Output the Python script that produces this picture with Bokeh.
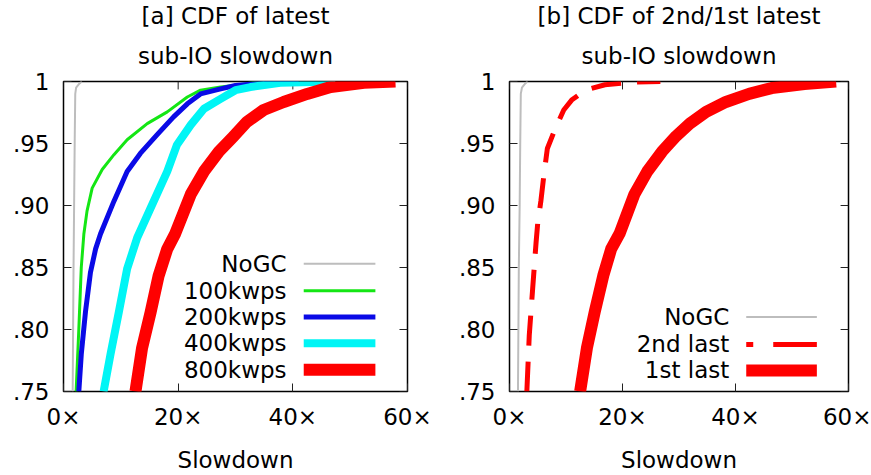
from bokeh.plotting import figure
from bokeh.layouts import row
from bokeh.models import Range1d, FixedTicker, Label, Title
from bokeh.embed import file_html
from bokeh.resources import INLINE

FONT = "DejaVu Sans"
FS = "23px"

x_ticks = [0, 20, 40, 60]
x_tick_labels = ["0\u00d7", "20\u00d7", "40\u00d7", "60\u00d7"]
y_ticks = [0.75, 0.80, 0.85, 0.90, 0.95, 1.0]
y_tick_labels = [".75", ".80", ".85", ".90", ".95", "1"]

title_a = ["[a] CDF of latest", "sub-IO slowdown"]
title_b = ["[b] CDF of 2nd/1st latest", "sub-IO slowdown"]

# ---- panel a: CDF of latest sub-IO slowdown ----
nogc_x = [1.6, 1.75, 1.85, 1.95, 2.05, 2.2, 2.8, 3.2]
nogc_y = [0.75, 0.85, 0.90, 0.95, 0.99, 0.995, 0.9985, 1.0]

k100_x = [2.2, 2.67, 3.1, 3.55, 4.1, 5.0, 6.75, 8.8, 11.1, 14.6, 18.1, 21.6, 23.9, 27.4, 30.0, 33.0, 35.0]
k100_y = [0.75, 0.80, 0.85, 0.877, 0.8955, 0.914, 0.929, 0.941, 0.953, 0.966, 0.9755, 0.9875, 0.993, 0.9955, 0.997, 0.999, 1.0]

k200_x = [2.67, 3.1, 3.84, 4.7, 5.6, 6.45, 8.8, 11.1, 13.4, 16.3, 19.2, 21.6, 23.9, 27.4, 30.0, 35.0, 41.0]
k200_y = [0.75, 0.78, 0.8145, 0.846, 0.865, 0.877, 0.9035, 0.9275, 0.942, 0.957, 0.9715, 0.982, 0.990, 0.994, 0.9968, 0.9988, 1.0]

k400_x = [7.0, 8.2, 9.65, 11.1, 12.85, 15.2, 18.1, 19.8, 22.2, 24.5, 27.4, 30.0, 32.6, 37.8, 47.4]
k400_y = [0.75, 0.78, 0.814, 0.849, 0.874, 0.898, 0.9275, 0.949, 0.965, 0.978, 0.986, 0.993, 0.9955, 0.999, 1.0]

k800_x = [12.55, 13.7, 15.2, 16.6, 18.1, 19.5, 22.2, 24.5, 27.1, 29.5, 32.0, 34.9, 38.4, 42.5, 46.6, 52.4, 57.9]
k800_y = [0.75, 0.785, 0.814, 0.8435, 0.865, 0.8775, 0.909, 0.9275, 0.9435, 0.955, 0.9675, 0.977, 0.9835, 0.990, 0.9955, 0.999, 1.0]

# ---- panel b: CDF of 2nd/1st latest sub-IO slowdown ----
nogc_b_x = [1.5, 1.65, 1.8, 1.9, 2.0, 2.2, 2.8, 3.2]
nogc_b_y = [0.75, 0.85, 0.90, 0.95, 0.99, 0.995, 0.9985, 1.0]

second_x = [3.07, 3.5, 4.1, 4.7, 5.0, 5.55, 6.1, 6.7, 8.1, 9.6, 11.0, 13.4, 16.9, 22.1, 26.7]
second_y = [0.75, 0.7955, 0.833, 0.870, 0.886, 0.9035, 0.925, 0.946, 0.962, 0.977, 0.985, 0.993, 0.9974, 0.9995, 1.0]

first_x = [12.5, 13.7, 15.1, 16.6, 18.0, 19.5, 22.1, 24.4, 27.0, 29.5, 31.9, 34.8, 38.3, 42.4, 46.4, 52.2, 57.8]
first_y = [0.75, 0.785, 0.8145, 0.8435, 0.865, 0.8775, 0.909, 0.9275, 0.9435, 0.956, 0.966, 0.9755, 0.9835, 0.990, 0.9947, 0.998, 1.0]

GRAY = "#bdbdbd"
GREEN = "#14e614"
BLUE = "#0a0ae6"
CYAN = "#00f5f5"
RED = "#ff0000"

X0, X1 = 0, 60
Y0, Y1 = 0.75, 1.0
TICK_X = 1.4      # 8px of x range
TICK_Y = 0.0064   # 8px of y range


def make_fig(width, bl, br, title_lines):
    p = figure(width=width, height=475, x_range=Range1d(X0, X1), y_range=Range1d(Y0, Y1),
               output_backend="svg", toolbar_location=None, title=None,
               min_border_left=bl, min_border_right=br, min_border_top=81, min_border_bottom=81)
    # second title line closest to the frame, first line above it
    for txt, so in ((title_lines[1], 25), (title_lines[0], 0)):
        p.add_layout(Title(text=txt, align="center", text_font=FONT, text_font_size=FS,
                           text_font_style="normal", text_color="black", standoff=so), "above")
    p.xgrid.visible = False
    p.ygrid.visible = False
    p.outline_line_color = "black"
    p.outline_line_width = 1.5
    p.outline_line_alpha = 1.0

    for ax, ticks, labels in ((p.xaxis[0], x_ticks, x_tick_labels), (p.yaxis[0], y_ticks, y_tick_labels)):
        ax.ticker = FixedTicker(ticks=ticks)
        ax.major_label_overrides = dict(zip(ticks, labels))
        ax.major_label_text_font = FONT
        ax.major_label_text_font_size = FS
        ax.major_label_text_color = "black"
        ax.major_tick_in = 8
        ax.major_tick_out = 0
        ax.minor_tick_line_color = None
        ax.axis_line_color = None
        ax.major_tick_line_color = "#222222"
        ax.major_label_standoff = 14
    p.xaxis[0].major_label_standoff = 12
    p.xaxis[0].axis_label = "Slowdown"
    p.xaxis[0].axis_label_text_font = FONT
    p.xaxis[0].axis_label_text_font_size = FS
    p.xaxis[0].axis_label_text_font_style = "normal"
    p.xaxis[0].axis_label_text_color = "black"
    p.xaxis[0].axis_label_standoff = 14

    # mirrored inner ticks on the top and right frame edges
    p.segment(x0=x_ticks, y0=[Y1] * len(x_ticks), x1=x_ticks, y1=[Y1 - TICK_Y] * len(x_ticks),
              line_color="#222222", line_width=1)
    p.segment(x0=[X1] * len(y_ticks), y0=y_ticks, x1=[X1 - TICK_X] * len(y_ticks), y1=y_ticks,
              line_color="#222222", line_width=1)
    return p


def legend_entry(p, text, y, color, width, dash="solid"):
    p.add_layout(Label(x=38.9, y=y, text=text, text_align="right", text_baseline="middle",
                       text_font=FONT, text_font_size=FS, text_color="black"))
    p.line([41.9, 54.4], [y, y], line_color=color, line_width=width, line_dash=dash)


pa = make_fig(455, 63, 48, title_a)
pa.line(nogc_x, nogc_y, line_color=GRAY, line_width=2, line_join="round")
pa.line(k100_x, k100_y, line_color=GREEN, line_width=3, line_join="round")
pa.line(k200_x, k200_y, line_color=BLUE, line_width=5, line_join="round")
pa.line(k400_x, k400_y, line_color=CYAN, line_width=8, line_join="round")
pa.line(k800_x, k800_y, line_color=RED, line_width=12, line_join="round")
legend_entry(pa, "NoGC", 0.853, GRAY, 2)
legend_entry(pa, "100kwps", 0.8313, GREEN, 3)
legend_entry(pa, "200kwps", 0.810, BLUE, 5)
legend_entry(pa, "400kwps", 0.789, CYAN, 8)
legend_entry(pa, "800kwps", 0.7676, RED, 12)

pb = make_fig(416, 48, 23, title_b)
pb.line(nogc_b_x, nogc_b_y, line_color=GRAY, line_width=2, line_join="round")
pb.line(second_x, second_y, line_color=RED, line_width=5, line_dash="30 16", line_join="round")
pb.line(first_x, first_y, line_color=RED, line_width=12, line_join="round")
legend_entry(pb, "NoGC", 0.810, GRAY, 2)
legend_entry(pb, "2nd last", 0.788, RED, 5, "7 20 60")
legend_entry(pb, "1st last", 0.767, RED, 12)

layout = row(pa, pb, spacing=0)
open("out.html", "w").write(file_html(layout, INLINE))
